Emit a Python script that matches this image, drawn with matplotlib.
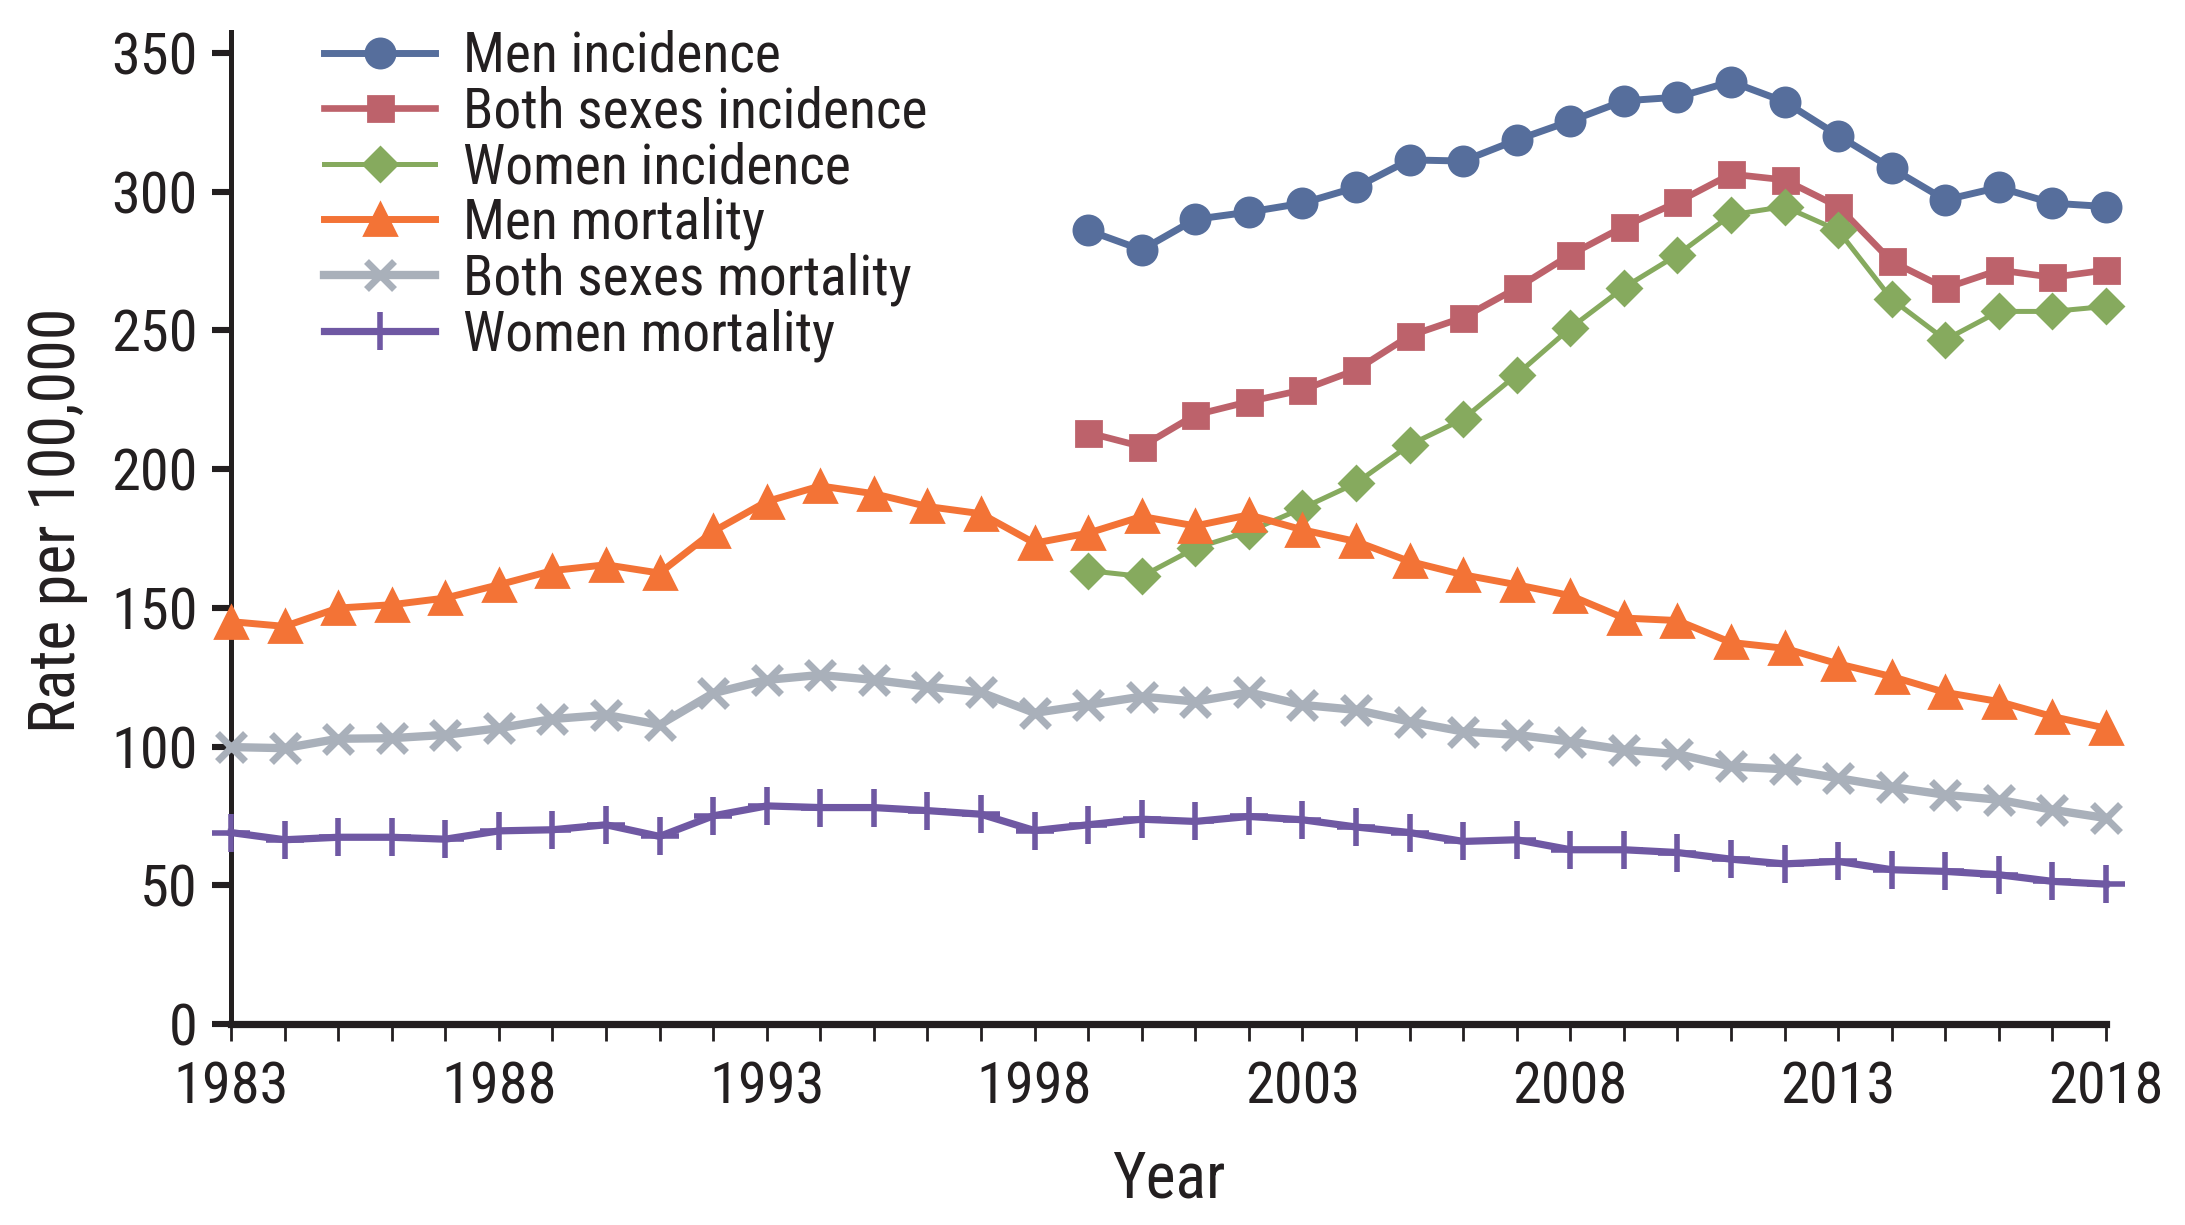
import matplotlib
matplotlib.use("Agg")
import matplotlib.pyplot as plt
from matplotlib import font_manager
from matplotlib.ticker import MultipleLocator, FixedLocator

avail = {f.name for f in font_manager.fontManager.ttflist}
fam = None
for cand in ["Liberation Sans Narrow", "DejaVu Sans Condensed", "Roboto Condensed", "Liberation Sans"]:
    if cand in avail:
        fam = cand
        break
plt.rcParams['font.family'] = [fam, 'DejaVu Sans']
if fam == "DejaVu Sans Condensed":
    plt.rcParams['font.stretch'] = 'condensed'

years_mort = list(range(1983, 2019))
years_inc = list(range(1999, 2019))

men_incidence = [286, 279, 290, 292.6, 295.8, 301.5, 311.4, 311, 318.6, 325.4,
                 332.7, 334, 339.6, 332.4, 320.2, 308.4, 297, 301.5, 295.8, 294.6]
both_incidence = [213.1, 208.1, 219.5, 224.3, 228.5, 235.7, 248, 254.6, 265.2, 277.2,
                  287.4, 296.2, 306.3, 304.2, 294.6, 274.8, 265.2, 271.7, 269.1, 271.7]
women_incidence = [163.4, 161.3, 171.5, 177.5, 185.9, 194.9, 208.7, 218, 234, 250.8,
                   265.4, 277.2, 291.6, 294.6, 286, 261.2, 246.6, 256.8, 256.8, 258.6]
men_mortality = [145.0, 143.3, 149.9, 151.1, 153.5, 158.3, 163.4, 165.5, 162.5, 177.5,
                 188.3, 193.9, 191.1, 186.5, 183.9, 173.3, 176.9, 182.9, 179.5, 183.5,
                 178.1, 173.9, 166.7, 161.9, 158.3, 154.4, 146.3, 145.4, 137.5, 135.4,
                 129.8, 125.2, 119.5, 116.2, 110.8, 106.6]
both_mortality = [99.8, 99.4, 102.8, 103, 104.2, 106.6, 109.9, 111.4, 107.8, 119.2,
                  124, 125.8, 124, 121.6, 119.5, 112.1, 115, 118, 116.2, 119.5,
                  115, 113.2, 109, 105.4, 104.2, 101.8, 98.8, 97.3, 92.8, 91.8,
                  88.6, 85.4, 82.6, 80.8, 77.2, 74.2]
women_mortality = [69, 66.4, 67.3, 67.3, 66.6, 69.6, 70, 71.8, 67.6, 75,
                   78.6, 78, 78, 76.9, 75.6, 69.7, 71.8, 73.8, 73, 74.8,
                   73.6, 71, 69, 65.8, 66.4, 62.8, 62.8, 61.8, 59.4, 57.7,
                   58.6, 55.6, 55, 53.8, 51.4, 50.4]

y_ticks = [0, 50, 100, 150, 200, 250, 300, 350]
x_ticks = [1983, 1988, 1993, 1998, 2003, 2008, 2013, 2018]

fig = plt.figure(figsize=(10.925, 6.125), dpi=200)
ax = fig.add_axes([231/2185, 1 - 1024/1225, (2106-231)/2185, (1024-32)/1225])

series = [
    (years_inc, men_incidence, "Men incidence", "#566E9C", "o", 10.5, 2.5, 1.0),
    (years_inc, both_incidence, "Both sexes incidence", "#BD626B", "s", 9.0, 2.4, 1.0),
    (years_inc, women_incidence, "Women incidence", "#86AA5E", "D", 8.5, 1.8, 1.0),
    (years_mort, men_mortality, "Men mortality", "#F37336", "^", 11.5, 2.5, 1.0),
    (years_mort, both_mortality, "Both sexes mortality", "#A9B0BA", "x", 10.0, 3.0, 2.5),
    (years_mort, women_mortality, "Women mortality", "#6F58A3", "+", 14.0, 2.6, 2.0),
]
for xs, ys, lab, col, mk, ms, lw, mew in series:
    ax.plot(xs, ys, color=col, marker=mk, markersize=ms, linewidth=lw,
            markeredgewidth=mew, markeredgecolor=col, markerfacecolor=col,
            label=lab, clip_on=False, zorder=3)

ax.set_xlim(1983, 2018)
ax.set_ylim(0, 357.5)
ax.yaxis.set_major_locator(FixedLocator(y_ticks))
ax.xaxis.set_major_locator(FixedLocator(x_ticks))
ax.xaxis.set_minor_locator(MultipleLocator(1))
for s in ["top", "right"]:
    ax.spines[s].set_visible(False)
ax.spines["left"].set_linewidth(1.8)
ax.spines["bottom"].set_linewidth(2.6)
ax.spines["left"].set_color("#231f20")
ax.spines["bottom"].set_color("#231f20")
ax.tick_params(axis="y", which="major", length=7, width=2.2, pad=5, labelsize=21,
               color="#231f20", labelcolor="#231f20")
ax.tick_params(axis="x", which="both", length=6, width=1.0, pad=7, labelsize=21,
               color="#231f20", labelcolor="#231f20")

ax.set_xlabel("Year", fontsize=23, color="#231f20")
ax.set_ylabel("Rate per 100,000", fontsize=23, color="#231f20")
ax.xaxis.set_label_coords(0.5, -0.125)
ax.yaxis.set_label_coords(-0.0765, 0.508)

leg = ax.legend(loc="upper left", bbox_to_anchor=(324/2185, 1 - 30/1225),
                bbox_transform=fig.transFigure, frameon=False, fontsize=20,
                handlelength=2.0, handletextpad=0.5, labelspacing=0.045,
                borderpad=0, borderaxespad=0, numpoints=1)
for t in leg.get_texts():
    t.set_color("#231f20")

fig.savefig("out.png", dpi=200)
